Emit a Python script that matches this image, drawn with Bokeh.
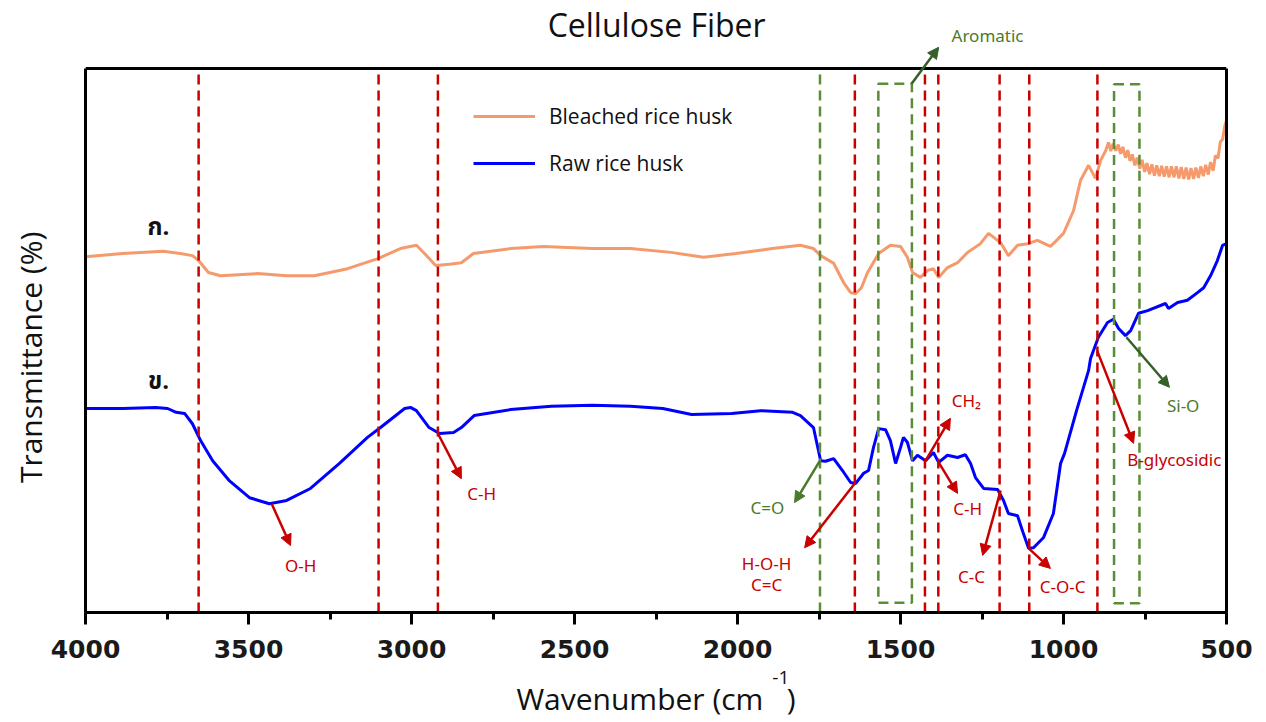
import math
from bokeh.plotting import figure
from bokeh.models import (Range1d, SingleIntervalTicker, FixedTicker, Arrow, NormalHead,
                          Label, Legend, LegendItem, LinearAxis)
from bokeh.embed import file_html
from bokeh.resources import INLINE

# ---------------- data ----------------
bleached_wn = [4000, 3886, 3761, 3709, 3672, 3653, 3623, 3586, 3472, 3383, 3298, 3196, 3101,
               3034, 2985, 2960, 2926, 2883, 2847, 2810, 2696, 2595, 2445, 2328, 2204, 2104,
               2005, 1893, 1807, 1767, 1745, 1705, 1675, 1653, 1638, 1620, 1601, 1567, 1531,
               1500, 1479, 1463, 1439, 1417, 1399, 1383, 1356, 1325, 1294, 1255, 1230, 1193,
               1169, 1141, 1110, 1080, 1040, 1018, 1000, 969, 948, 923, 902, 886,
               870, 862, 855, 848, 840, 832, 825, 818, 810, 803, 796, 789, 781, 774, 766, 759,
               751, 744, 736, 729, 721, 714, 706, 699, 691, 684, 676, 669, 661, 654, 646, 639,
               631, 624, 616, 609, 601, 594, 586, 579, 571, 564, 556, 549, 541, 534, 526, 519,
               512, 505, 500]
bleached_t = [65.4, 66.0, 66.4, 66.0, 65.6, 64.7, 62.5, 61.9, 62.3, 61.9, 61.9, 63.2, 65.1,
              66.9, 67.5, 66.0, 63.8, 64.0, 64.3, 66.0, 66.9, 67.3, 66.9, 66.9, 66.2, 65.3,
              66.0, 66.9, 67.5, 66.9, 65.6, 64.2, 60.7, 58.8, 58.6, 59.7, 62.5, 66.0, 67.5,
              67.3, 65.3, 62.5, 61.6, 62.9, 63.2, 61.6, 63.4, 64.3, 66.2, 67.8, 69.7, 68.0,
              65.6, 67.5, 67.8, 68.4, 67.3, 68.6, 69.7, 73.9, 79.4, 82.2, 79.8, 83.1,
              85.0, 86.4, 84.8, 86.2, 84.9, 86.0, 84.3, 85.6, 83.6, 85.0, 83.0, 84.2, 82.2, 83.6,
              81.6, 83.2, 81.0, 82.6, 80.6, 82.4, 80.3, 82.2, 80.2, 82.1, 80.1, 82.0, 80.0, 82.0,
              80.0, 82.0, 79.8, 81.9, 79.7, 81.8, 79.6, 81.7, 79.7, 81.8, 79.9, 82.0, 80.2, 82.3,
              80.5, 82.8, 81.2, 84.0, 83.5, 86.5, 87.0, 89.5, 90.5]

raw_wn = [4000, 3886, 3785, 3748, 3722, 3696, 3672, 3647, 3610, 3560, 3497, 3436, 3383, 3310,
          3221, 3135, 3095, 3021, 3003, 2985, 2946, 2914, 2871, 2847, 2808, 2696, 2571, 2445,
          2328, 2229, 2141, 2018, 1929, 1831, 1807, 1767, 1745, 1730, 1705, 1678, 1653, 1638,
          1613, 1598, 1583, 1567, 1546, 1531, 1515, 1500, 1491, 1479, 1463, 1448, 1423, 1399,
          1383, 1356, 1325, 1301, 1285, 1270, 1245, 1202, 1184, 1169, 1141, 1123, 1107, 1092,
          1061, 1031, 1009, 997, 960, 923, 917, 893, 865, 847, 831, 810, 794, 770, 742, 687,
          678, 650, 620, 589, 570, 549, 528, 512, 500]
raw_t = [37.5, 37.5, 37.7, 37.5, 36.8, 36.6, 34.7, 31.6, 27.9, 24.3, 21.1, 20.0, 20.6, 22.8,
         27.4, 32.2, 34.0, 37.5, 37.7, 37.1, 34.0, 32.9, 33.1, 34.0, 36.2, 37.3, 37.9, 38.1,
         37.9, 37.5, 36.4, 36.6, 37.1, 36.8, 36.2, 34.0, 27.9, 27.8, 28.3, 26.1, 23.9, 23.7,
         25.6, 26.1, 30.3, 33.8, 33.6, 31.6, 27.4, 30.3, 32.2, 31.3, 27.9, 28.9, 27.9, 29.4,
         27.6, 28.9, 28.5, 29.0, 27.4, 24.8, 22.8, 22.6, 20.6, 18.2, 17.8, 14.5, 11.8, 11.9,
         13.8, 18.2, 27.4, 29.2, 37.1, 44.5, 46.7, 50.6, 53.3, 53.9, 52.2, 50.9, 51.8, 55.0,
         55.5, 56.8, 55.9, 57.0, 57.4, 58.8, 59.7, 61.9, 64.7, 67.5, 67.8]

series_names = ["Bleached rice husk", "Raw rice husk"]
chart_title = "Cellulose Fiber"
x_label = "Wavenumber (cm\u00a0\u00a0\u00a0)"
x_label_sup = "-1"
y_label = "Transmittance (%)"

x_min, x_max = 500, 4000
y_min, y_max = 0, 100

red_lines_wn = [3653, 3101, 2919, 1640, 1425, 1384, 1196, 1105, 896]
green_lines_wn = [1747]
box_left_wn = [1568, 845]
box_right_wn = [1465, 767]
box_bottom = [1.8, 1.7]
box_top = [97.2, 97.1]

ann_text = ["O-H", "C-H", "C=O", "H-O-H", "C=C", "CH\u2082", "C-H", "C-C", "C-O-C",
            "B-glycosidic", "Si-O", "Aromatic"]
ann_x = [3340, 2785, 1908, 1911, 1911, 1298, 1294, 1282, 1003, 660, 633, 1233]
ann_y = [8.6, 21.9, 19.3, 9.0, 5.1, 39.0, 19.1, 6.6, 4.8, 28.1, 38.1, 106.1]
ann_kind = ["r", "r", "g", "r", "r", "r", "r", "r", "r", "r", "g", "g"]

arr_x0 = [3429, 2919, 1747, 1638, 1423, 1383, 1193, 1107, 896, 807, 1466]
arr_y0 = [20.0, 32.9, 27.9, 23.9, 27.9, 27.6, 22.4, 11.8, 48.0, 50.6, 97.2]
arr_x1 = [3371, 2847, 1825, 1794, 1347, 1325, 1248, 1040, 785, 675, 1383]
arr_y1 = [12.3, 24.6, 20.2, 11.9, 35.7, 21.9, 10.5, 8.1, 31.1, 41.4, 103.9]
arr_kind = ["r", "r", "g", "r", "r", "r", "r", "r", "r", "d", "d"]

sample_text = ["\u0e01.", "\u0e02."]
sample_x = [3776, 3776]
sample_y = [70.6, 42.3]

# ---------------- styling ----------------
RED = "#C80000"
GREEN_LINE = "#5B8C36"
GREEN_TXT = "#4A7A2C"
DARK_GREEN = "#35602A"
ORANGE = "#F59A6C"
BLUE = "#0000FF"
colors = {"r": RED, "g": GREEN_TXT, "d": DARK_GREEN}

# frame reaches the top of the canvas so the texts above the box can be drawn in it
p = figure(width=1266, height=722, output_backend="svg", toolbar_location=None,
           x_range=Range1d(x_max, x_min), y_range=Range1d(y_min, 112.5),
           min_border_left=85, min_border_right=40, min_border_top=0, min_border_bottom=110,
           title=None)

p.outline_line_color = None
p.xgrid.visible = False
p.ygrid.visible = False
p.background_fill_color = "white"
p.border_fill_color = "white"

xa = p.xaxis[0]
xa.ticker = SingleIntervalTicker(interval=500, num_minor_ticks=2)
xa.axis_line_color = "black"
xa.axis_line_width = 3
xa.major_tick_in = 0
xa.major_tick_out = 12
xa.minor_tick_in = 0
xa.minor_tick_out = 7
xa.major_tick_line_width = 3
xa.minor_tick_line_width = 3
xa.major_tick_line_color = "black"
xa.minor_tick_line_color = "black"
xa.major_label_text_font = "DejaVu Sans"
xa.major_label_text_font_size = "25px"
xa.major_label_text_font_style = "bold"
xa.major_label_text_color = "#1a1a1a"
xa.major_label_standoff = 15
xa.axis_label = x_label
xa.axis_label_text_font = "Open Sans"
xa.axis_label_text_font_size = "30px"
xa.axis_label_text_font_style = "normal"
xa.axis_label_text_color = "#111111"
xa.axis_label_standoff = 17

ya = p.yaxis[0]
ya.ticker = FixedTicker(ticks=[])
ya.bounds = (y_min, y_max)
ya.axis_line_color = "black"
ya.axis_line_width = 3

ra = LinearAxis(ticker=FixedTicker(ticks=[]), bounds=(y_min, y_max),
                axis_line_color="black", axis_line_width=3)
p.add_layout(ra, "right")

# top edge of the box
p.segment(x0=[x_max], x1=[x_min], y0=[y_max], y1=[y_max], line_color="black", line_width=3)

# curves
r1 = p.line(bleached_wn, bleached_t, line_color=ORANGE, line_width=3)
r2 = p.line(raw_wn, raw_t, line_color=BLUE, line_width=3)

# dashed reference lines
p.segment(x0=red_lines_wn, x1=red_lines_wn, y0=[y_min] * len(red_lines_wn),
          y1=[y_max] * len(red_lines_wn), line_color=RED, line_width=2.5, line_dash="10 6")
p.segment(x0=green_lines_wn, x1=green_lines_wn, y0=[y_min] * len(green_lines_wn),
          y1=[y_max] * len(green_lines_wn), line_color=GREEN_LINE, line_width=2.5,
          line_dash="10 6")
p.quad(left=box_left_wn, right=box_right_wn, bottom=box_bottom, top=box_top,
       fill_color=None, line_color=GREEN_LINE, line_width=2.5, line_dash="10 6")

# arrows
for x0, y0, x1, y1, k in zip(arr_x0, arr_y0, arr_x1, arr_y1, arr_kind):
    c = colors[k]
    p.add_layout(Arrow(x_start=x0, y_start=y0, x_end=x1, y_end=y1, line_color=c, line_width=2.5,
                       end=NormalHead(size=11, fill_color=c, line_color=c)))

# annotation labels
for t, x, y, k in zip(ann_text, ann_x, ann_y, ann_kind):
    p.add_layout(Label(x=x, y=y, text=t, text_color=colors[k], text_font="Noto Sans",
                       text_font_size="17px", text_align="center", text_baseline="middle"))

# sample labels
for t, x, y in zip(sample_text, sample_x, sample_y):
    p.add_layout(Label(x=x, y=y, text=t, text_color="#111111",
                       text_font="Noto Sans Thai, Loma, Tahoma, Noto Sans, sans-serif",
                       text_font_size="24px", text_font_style="bold",
                       text_align="center", text_baseline="middle"))

# chart title
p.add_layout(Label(x=2248, y=108.1, text=chart_title, text_color="#111111",
                   text_font="Open Sans", text_font_size="32px",
                   text_align="center", text_baseline="middle"))

# y axis title (left of the box)
p.add_layout(Label(x=4169, y=46.9, text=y_label, angle=math.pi / 2, text_color="#111111",
                   text_font="Open Sans", text_font_size="30px",
                   text_align="center", text_baseline="middle"), "left")

# superscript of the x axis title
p.add_layout(Label(x=1867, y=-11.9, text=x_label_sup, text_color="#111111",
                   text_font="Open Sans", text_font_size="19px",
                   text_align="center", text_baseline="middle"), "right")

legend = Legend(items=[LegendItem(label=series_names[0], renderers=[r1]),
                       LegendItem(label=series_names[1], renderers=[r2])],
                location=(388, 435), glyph_width=62, glyph_height=26, label_height=26,
                label_standoff=14, spacing=19, padding=0, margin=0,
                border_line_color=None, background_fill_alpha=0,
                label_text_font="Open Sans", label_text_font_size="21px",
                label_text_color="#111111")
p.add_layout(legend)

open("out.html", "w").write(file_html(p, INLINE))
